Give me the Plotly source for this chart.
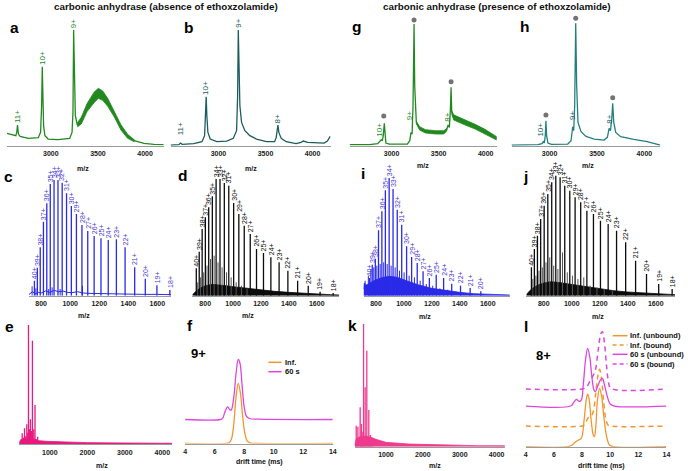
import plotly.graph_objects as go

W, H = 688, 471
FONT = "Liberation Sans, Arial, sans-serif"

# ---------------- Row 1 spectra (m/z, relative intensity) ----------------
a_mz = [2534, 2586, 2628, 2638, 2646, 2656, 2674, 2762, 2867, 2891, 2902, 2909, 2916, 2923, 2937, 2972, 3077,
        3200, 3225, 3235, 3242, 3249, 3260, 3281, 3323, 3386, 3463, 3505, 3551, 3604, 3674, 3744, 3815, 3885,
        3990, 4095, 4200]
a_int = [37, 33, 30, 40, 62, 35, 28, 22, 24, 40, 120, 237, 130, 60, 30, 20, 18, 22, 40, 100, 347, 200, 90, 62,
         75, 115, 145, 157, 150, 130, 95, 55, 28, 15, 7, 4, 3]
a_band_mz = [3281, 3323, 3386, 3463, 3505, 3551, 3604, 3674, 3744, 3815, 3885]
a_band_hi = [68, 85, 127, 162, 172, 164, 142, 104, 63, 34, 18]
a_band_lo = [56, 65, 103, 130, 142, 136, 118, 86, 47, 22, 12]

b_mz = [2491, 2579, 2597, 2614, 2737, 2825, 2853, 2863, 2870, 2877, 2888, 2913, 2983, 3088, 3158, 3193, 3204,
        3211, 3218, 3228, 3246, 3281, 3334, 3404, 3509, 3597, 3614, 3625, 3632, 3642, 3667, 3720, 3825, 3878,
        3902, 3948, 4036, 4123, 4158, 4187]
b_int = [2, 3, 8, 4, 6, 12, 30, 100, 147, 90, 40, 20, 12, 14, 22, 45, 150, 347, 230, 120, 70, 45, 30, 20, 12,
         12, 25, 50, 62, 40, 22, 12, 6, 10, 14, 10, 8, 8, 14, 28]

g_mz = [2554, 2765, 2853, 2877, 2891, 2902, 2912, 2923, 2929, 2940, 2975, 3168, 3193, 3207, 3218, 3228, 3239,
        3246, 3263, 3298, 3361, 3467, 3555, 3586, 3600, 3614, 3625, 3632, 3639, 3660, 3695, 3782, 3888, 3993, 4116]
g_int = [3, 3, 6, 12, 18, 15, 30, 67, 30, 8, 5, 5, 15, 40, 35, 120, 365, 180, 70, 52, 43, 40, 40, 48, 62, 55,
         110, 175, 100, 85, 80, 70, 57, 42, 22]
g_band1_mz = [3263, 3298, 3361, 3467, 3555, 3586]
g_band1_hi = [73, 57, 48, 45, 45, 52]
g_band1_lo = [66, 47, 38, 35, 35, 44]
g_band2_mz = [3639, 3660, 3695, 3782, 3888, 3993, 4116]
g_band2_hi = [105, 93, 88, 78, 64, 49, 27]
g_band2_lo = [95, 77, 72, 62, 50, 35, 17]

h_mz = [2599, 2878, 2920, 2934, 2945, 2955, 2962, 2969, 2983, 3018, 3192, 3227, 3244, 3255, 3265, 3276, 3286,
        3300, 3332, 3384, 3471, 3575, 3610, 3628, 3642, 3656, 3666, 3677, 3698, 3750, 3889, 4029, 4168]
h_int = [2, 3, 6, 12, 8, 30, 75, 30, 8, 4, 5, 15, 57, 45, 120, 367, 180, 70, 42, 28, 20, 17, 25, 52, 45, 80,
         127, 70, 40, 27, 19, 12, 2]

g_dot_mz = [2917, 3239, 3632]
g_dot_int = [89, 377, 192]
h_dot_mz = [2962, 3276, 3666]
h_dot_int = [92, 382, 144]

a_lab = ["11+", "10+", "9+"]
a_lab_mz = [2646, 2909, 3242]
a_lab_int = [62, 237, 347]
b_lab = ["11+", "10+", "9+", "8+"]
b_lab_mz = [2597, 2870, 3211, 3632]
b_lab_int = [25, 147, 347, 62]
g_lab = ["10+", "9+", "8+"]
g_lab_mz = [2870, 3186, 3590]
g_lab_int = [22, 69, 65]
h_lab = ["10+", "9+", "8+"]
h_lab_mz = [2902, 3234, 3630]
h_lab_int = [22, 72, 59]

# ---------------- Row 2 spectra (charge-state series) ----------------
charges_40_18 = ["40+", "39+", "38+", "37+", "36+", "35+", "34+", "33+", "32+", "31+", "30+", "29+", "28+",
                 "27+", "26+", "25+", "24+", "23+", "22+", "21+", "20+", "19+", "18+"]
charges_40_20 = charges_40_18[:21]

c_mz = [754, 774, 794, 816, 839, 863, 889, 916, 945, 975, 1008, 1043, 1081, 1121, 1165, 1212, 1262, 1318, 1378,
        1444, 1517, 1597, 1686]
c_int = [45, 84, 145, 222, 277, 335, 347, 347, 339, 307, 269, 245, 212, 194, 179, 172, 167, 169, 145, 85, 51, 31, 17]
c_minor_mz = [738, 764, 852, 876, 931, 1085]
c_minor_int = [28, 22, 20, 25, 20, 30]
c_noise_mz = [715, 740, 760, 780, 800, 830, 860, 890, 920, 950, 980, 1010, 1050, 1090, 1130, 1200, 1300, 1400,
              1500, 1600, 1694]
c_noise_int = [3, 12, 6, 10, 8, 14, 10, 16, 12, 14, 10, 9, 12, 8, 7, 6, 5, 5, 4, 4, 3]

d_mz = [736, 757, 778, 801, 825, 851, 878, 906, 937, 969, 1004, 1041, 1080, 1123, 1168, 1218, 1271, 1330, 1393,
        1463, 1539, 1624, 1718]
d_int = [82, 132, 200, 235, 265, 298, 350, 350, 338, 330, 278, 245, 210, 185, 140, 128, 115, 100, 75, 45, 30, 12, 8]
d_hump_mz = [708, 730, 760, 800, 850, 900, 950, 1000, 1100, 1200, 1300, 1400, 1500, 1600, 1700, 1760]
d_hump_int = [2, 12, 22, 30, 34, 33, 30, 27, 22, 17, 13, 10, 7, 5, 3, 2]
d_minor_mz = [746, 767, 789, 813, 838, 864, 892, 921, 953, 986, 1022, 1060, 1100]
d_minor_int = [40, 55, 70, 90, 110, 120, 100, 85, 70, 55, 40, 30, 20]

i_mz = [753, 773, 795, 818, 842, 867, 894, 922, 952, 984, 1019, 1055, 1095, 1137, 1182, 1231, 1284, 1342, 1405,
        1474, 1550]
i_int = [53, 93, 111, 196, 253, 316, 353, 320, 258, 213, 148, 116, 98, 73, 53, 63, 53, 36, 30, 23, 13]
i_hump_mz = [711, 715, 730, 760, 800, 850, 900, 950, 1000, 1050, 1100, 1200, 1300, 1400, 1500, 1600, 1758]
i_hump_int = [20, 38, 32, 40, 48, 55, 58, 55, 48, 40, 33, 22, 15, 10, 6, 4, 2]
i_minor_mz = [722, 745, 763, 784, 806, 830, 855, 880, 908, 937, 968, 1001, 1037, 1075, 1116, 1160, 1206, 1257, 1313]
i_minor_int = [45, 60, 80, 85, 90, 95, 100, 95, 90, 85, 75, 70, 60, 55, 45, 35, 30, 22, 18]

j_mz = [712, 733, 755, 778, 803, 829, 857, 886, 917, 950, 986, 1024, 1064, 1108, 1155, 1205, 1260, 1320, 1385,
        1456, 1534, 1621, 1717]
j_int = [85, 140, 180, 230, 270, 305, 340, 360, 355, 330, 315, 295, 280, 255, 245, 225, 215, 195, 160, 105, 65, 35, 20]
j_hump_mz = [676, 700, 730, 760, 800, 850, 900, 950, 1000, 1100, 1200, 1300, 1400, 1500, 1600, 1700, 1738]
j_hump_int = [3, 15, 25, 32, 38, 42, 40, 37, 33, 26, 20, 15, 11, 8, 6, 4, 3]
j_minor_mz = [722, 744, 766, 790, 816, 843, 871, 901, 934, 968, 1005, 1044, 1086, 1131, 1180, 1232, 1290]
j_minor_int = [50, 60, 75, 85, 100, 115, 90, 80, 130, 70, 60, 50, 55, 30, 25, 20, 15]

# ---------------- Row 3 ----------------
e_mz = [262, 300, 323, 360, 384, 410, 429, 455, 481, 510, 534, 570, 603, 640, 675]
e_int = [33, 20, 48, 25, 60, 35, 358, 45, 75, 40, 311, 45, 118, 15, 23]
e_base_mz = [180, 220, 300, 450, 600, 700, 900, 1200, 1500, 2000, 3000, 4265]
e_base_int = [4, 14, 17, 18, 15, 11, 9, 8, 7, 5, 4, 3]

k_mz = [194, 239, 301, 335, 355, 393, 436, 481, 535, 580, 624]
k_int = [63, 60, 118, 68, 45, 368, 178, 288, 110, 35, 23]
k_base_mz = [150, 200, 300, 450, 600, 731, 1000, 1300, 1629, 2000, 2524, 3000, 3500, 4223]
k_base_int = [5, 25, 30, 32, 28, 22, 13, 10, 8, 7, 5, 4, 3, 3]

f_inf_t = [4, 6.8, 7.0, 7.15, 7.3, 7.45, 7.6, 7.75, 7.9, 8.05, 8.2, 8.4, 9, 14]
f_inf_i = [0, 0, 3, 15, 60, 140, 180, 150, 80, 30, 8, 2, 0, 0]
f_60_t = [4, 6.4, 6.55, 6.7, 6.88, 7.0, 7.12, 7.3, 7.45, 7.6, 7.72, 7.85, 8.0, 8.15, 8.35, 9, 14]
f_60_i = [72, 72, 76, 95, 110, 103, 100, 140, 210, 252, 240, 180, 110, 82, 75, 73, 72]

l_inf_u_t = [4, 7.0, 7.3, 7.55, 7.75, 7.95, 8.15, 8.3, 8.4, 8.5, 8.65, 8.8, 8.88, 8.98, 9.1, 9.25, 9.4, 9.55,
             9.75, 9.95, 10.2, 14]
l_inf_u_i = [0, 0, 5, 15, 20, 25, 80, 140, 158, 145, 80, 35, 30, 60, 140, 175, 150, 90, 30, 5, 0, 0]
l_inf_b_t = [4, 8.0, 8.2, 8.35, 8.5, 8.65, 8.8, 8.95, 9.1, 9.25, 9.4, 9.55, 9.7, 9.85, 10.0, 14]
l_inf_b_i = [62, 62, 66, 80, 90, 92, 105, 150, 205, 232, 200, 130, 80, 65, 62, 62]
l_60_u_t = [4, 7.2, 7.4, 7.6, 7.8, 7.95, 8.1, 8.25, 8.4, 8.55, 8.7, 8.85, 8.95, 9.1, 9.3, 9.45, 9.6, 9.8, 10.0,
            10.3, 14]
l_60_u_i = [122, 122, 132, 142, 136, 140, 190, 260, 295, 270, 210, 170, 165, 180, 200, 205, 185, 150, 128, 122, 122]
l_60_b_t = [4, 8.0, 8.3, 8.55, 8.75, 8.95, 9.15, 9.35, 9.45, 9.6, 9.75, 9.9, 10.05, 14]
l_60_b_i = [173, 173, 178, 195, 210, 230, 290, 340, 345, 310, 240, 190, 175, 173]

mz_ticks_top = [3000, 3500, 4000]
mz_ticks_mid = [800, 1000, 1200, 1400, 1600]
mz_ticks_bot = [1000, 2000, 3000, 4000]
dt_ticks = [4, 6, 8, 10, 12, 14]

# ---------------- colours ----------------
GREEN = "#22891f"
TEAL_D = "#1c5c5c"
TEAL = "#23807f"
BLUE = "#2a2ae8"
BLUE_T = "#4a40d2"
BLACK = "#0c0c0c"
PINK = "#e8197f"
PINK2 = "#ef3a8e"
ORANGE = "#f2962e"
MAGENTA = "#df45df"

# ---------------- panel geometry (pixels) ----------------
PH = 130
panels = {
    'a': dict(n=1, x=(5, 163), yb=145.7, xr=(2534, 4197), tv=mz_ticks_top),
    'b': dict(n=2, x=(170, 331.7), yb=145.7, xr=(2491, 4194), tv=mz_ticks_top),
    'g': dict(n=3, x=(350.7, 499), yb=145.7, xr=(2555, 4116), tv=mz_ticks_top),
    'h': dict(n=4, x=(514, 664), yb=145.7, xr=(2599, 4167), tv=mz_ticks_top),
    'c': dict(n=5, x=(27, 170.5), yb=295.7, xr=(715, 1694), tv=mz_ticks_mid),
    'd': dict(n=6, x=(192, 340), yb=295.7, xr=(707.5, 1760), tv=mz_ticks_mid),
    'i': dict(n=7, x=(364.7, 512.3), yb=295.7, xr=(710.6, 1758), tv=mz_ticks_mid),
    'j': dict(n=8, x=(529, 679), yb=295.7, xr=(676, 1738), tv=mz_ticks_mid),
    'e': dict(n=9, x=(17.3, 171.7), yb=444.3, xr=(180, 4265), tv=mz_ticks_bot),
    'f': dict(n=10, x=(184.7, 333.7), yb=443.5, xr=(4, 14), tv=dt_ticks),
    'k': dict(n=11, x=(355.7, 507.3), yb=446.7, xr=(150, 4223), tv=mz_ticks_bot),
    'l': dict(n=12, x=(528.3, 670.3), yb=446.7, xr=(4, 14), tv=dt_ticks),
}


def sfx(n):
    return '' if n == 1 else str(n)


def X(px):
    return px / W


def Y(py):
    return 1 - py / H


fig = go.Figure()
layout_axes = {}
for key, p in panels.items():
    s = sfx(p['n'])
    layout_axes['xaxis' + s] = dict(
        domain=[X(p['x'][0]), X(p['x'][1])], range=list(p['xr']), anchor='y' + s,
        showline=True, linecolor='#9a9a9a', linewidth=1, ticks='', showgrid=False, zeroline=False,
        tickvals=p['tv'], ticklabelstandoff=1,
        tickfont=dict(size=7, family=FONT, color='#1a1a1a', weight='bold'))
    layout_axes['yaxis' + s] = dict(
        domain=[Y(p['yb']), Y(p['yb'] - PH)], range=[0, 390], anchor='x' + s, visible=False)


def ax(key):
    s = sfx(panels[key]['n'])
    return dict(xaxis='x' + s, yaxis='y' + s)


def line(key, x, y, color, width=1.0, dash=None, shape='linear'):
    fig.add_trace(go.Scatter(x=x, y=y, mode='lines', line=dict(color=color, width=width, dash=dash, shape=shape),
                             hoverinfo='skip', showlegend=False, **ax(key)))


def band(key, x, hi, lo, color):
    fig.add_trace(go.Scatter(x=list(x) + list(x)[::-1], y=list(hi) + list(lo)[::-1], mode='lines',
                             fill='toself', fillcolor=color, line=dict(color=color, width=0.8),
                             hoverinfo='skip', showlegend=False, **ax(key)))


def area(key, x, y, color):
    fig.add_trace(go.Scatter(x=x, y=y, mode='lines', fill='tozeroy', fillcolor=color,
                             line=dict(color=color, width=0.8), hoverinfo='skip', showlegend=False, **ax(key)))


def sticks(key, mz, inten, color, width=1.2):
    xs, ys = [], []
    for m, v in zip(mz, inten):
        xs += [m, m, None]
        ys += [0, v, None]
    fig.add_trace(go.Scatter(x=xs, y=ys, mode='lines', line=dict(color=color, width=width),
                             hoverinfo='skip', showlegend=False, **ax(key)))


def dots(key, mz, inten):
    fig.add_trace(go.Scatter(x=mz, y=inten, mode='markers', marker=dict(color='#737373', size=5),
                             cliponaxis=False, hoverinfo='skip', showlegend=False, **ax(key)))


annotations = []


def labels(key, texts, mz, inten, color, size):
    s = sfx(panels[key]['n'])
    for t, m, v in zip(texts, mz, inten):
        annotations.append(dict(xref='x' + s, yref='y' + s, x=m, y=v, text=t, textangle=-90, showarrow=False,
                                xanchor='center', yanchor='bottom', borderpad=0, yshift=1,
                                font=dict(size=size, color=color, family=FONT)))


def ptext(px, py, text, size, color='#111111', bold=True, xanchor='center'):
    annotations.append(dict(xref='paper', yref='paper', x=X(px), y=Y(py), text=text, showarrow=False,
                            xanchor=xanchor, yanchor='middle', borderpad=0,
                            font=dict(size=size, color=color, family=FONT, weight='bold' if bold else 'normal')))


# ---- row 1 ----
band('a', a_band_mz, a_band_hi, a_band_lo, GREEN)
line('a', a_mz, a_int, GREEN, 1.3)
line('b', b_mz, b_int, TEAL_D, 1.3)
band('g', g_band1_mz, g_band1_hi, g_band1_lo, GREEN)
band('g', g_band2_mz, g_band2_hi, g_band2_lo, GREEN)
line('g', g_mz, g_int, GREEN, 1.3)
line('h', h_mz, h_int, TEAL, 1.3)
dots('g', g_dot_mz, g_dot_int)
dots('h', h_dot_mz, h_dot_int)
labels('a', a_lab, a_lab_mz, a_lab_int, GREEN, 8)
labels('b', b_lab, b_lab_mz, b_lab_int, TEAL_D, 8)
labels('g', g_lab, g_lab_mz, g_lab_int, GREEN, 8)
labels('h', h_lab, h_lab_mz, h_lab_int, TEAL_D, 8)

# ---- row 2 ----
line('c', c_noise_mz, c_noise_int, BLUE, 1.0)
sticks('c', c_minor_mz, c_minor_int, BLUE, 1.0)
sticks('c', c_mz, c_int, BLUE, 1.3)
labels('c', charges_40_18, c_mz, c_int, BLUE_T, 7)

area('d', d_hump_mz, d_hump_int, BLACK)
sticks('d', d_minor_mz, d_minor_int, '#555555', 1.0)
sticks('d', d_mz, d_int, BLACK, 1.3)
labels('d', charges_40_18, d_mz, d_int, BLACK, 7)

area('i', i_hump_mz, i_hump_int, BLUE)
sticks('i', i_minor_mz, i_minor_int, BLUE, 1.0)
sticks('i', i_mz, i_int, BLUE, 1.3)
labels('i', charges_40_20, i_mz, i_int, BLUE_T, 7)

area('j', j_hump_mz, j_hump_int, BLACK)
sticks('j', j_minor_mz, j_minor_int, '#555555', 1.0)
sticks('j', j_mz, j_int, BLACK, 1.3)
labels('j', charges_40_18, j_mz, j_int, BLACK, 7)

# ---- row 3 ----
area('e', e_base_mz, e_base_int, PINK)
sticks('e', e_mz, e_int, PINK, 1.3)
area('k', k_base_mz, k_base_int, PINK2)
sticks('k', k_mz, k_int, PINK2, 1.3)

line('f', f_inf_t, f_inf_i, ORANGE, 1.3, shape='spline')
line('f', f_60_t, f_60_i, MAGENTA, 1.3, shape='spline')

line('l', l_inf_u_t, l_inf_u_i, ORANGE, 1.3, shape='spline')
line('l', l_inf_b_t, l_inf_b_i, ORANGE, 1.5, dash='5px,4px', shape='spline')
line('l', l_60_u_t, l_60_u_i, MAGENTA, 1.3, shape='spline')
line('l', l_60_b_t, l_60_b_i, MAGENTA, 1.5, dash='5px,4px', shape='spline')

# ---- legends (f, l) ----
shapes = []


def legend_item(x0, x1, y, color, dash, text):
    shapes.append(dict(type='line', xref='paper', yref='paper', x0=X(x0), x1=X(x1), y0=Y(y), y1=Y(y),
                       line=dict(color=color, width=1.5, dash=dash)))
    ptext(x1 + 2, y, text, 7.5, xanchor='left')


legend_item(268.7, 282, 362.3, ORANGE, 'solid', 'Inf.')
legend_item(268.7, 282, 371.7, MAGENTA, 'solid', '60 s')
legend_item(616, 631, 335.7, ORANGE, 'solid', 'Inf. (unbound)')
legend_item(616, 631, 345.0, ORANGE, '4px,3px', 'Inf. (bound)')
legend_item(616, 631, 354.3, MAGENTA, 'solid', '60 s (unbound)')
legend_item(616, 631, 364.0, MAGENTA, '4px,3px', '60 s (bound)')

# ---- texts ----
ptext(165, 7, 'carbonic anhydrase (absence of ethoxzolamide)', 9.8)
ptext(499, 7, 'carbonic anhydrase (presence of ethoxzolamide)', 9.8)

for lt, (lx, ly) in {'a': (12.3, 27.3), 'b': (188.3, 27.3), 'g': (357.3, 26.7), 'h': (526.7, 26.5),
                     'c': (6.5, 176.7), 'd': (182, 175.5), 'i': (364, 174), 'j': (527.7, 176.7),
                     'e': (7.3, 326.7), 'f': (190, 325.5), 'k': (354, 325.5), 'l': (528.3, 326)}.items():
    ptext(lx, ly, lt, 15.5, color='#000000')

for mx, my in [(82, 168.5), (251, 168.5), (425, 166), (591, 166),
               (83, 315.7), (248, 315.7), (427, 316.5), (601, 316.5),
               (101, 465), (437, 465)]:
    ptext(mx, my, 'm/z', 7)
ptext(259.3, 461.7, 'drift time (ms)', 7)
ptext(604.3, 465.7, 'drift time (ms)', 7)

ptext(198.7, 353.3, '9+', 13, color='#000000')
ptext(546.3, 355, '8+', 13, color='#000000')

fig.update_layout(width=W, height=H, margin=dict(l=0, r=0, t=0, b=0), paper_bgcolor='white',
                  plot_bgcolor='rgba(0,0,0,0)', showlegend=False, annotations=annotations, shapes=shapes,
                  font=dict(family=FONT), hovermode=False, **layout_axes)

fig.write_html("out.html", config={'displayModeBar': False, 'staticPlot': True},
               post_script="document.body.style.margin='0';document.body.style.overflow='hidden';")
